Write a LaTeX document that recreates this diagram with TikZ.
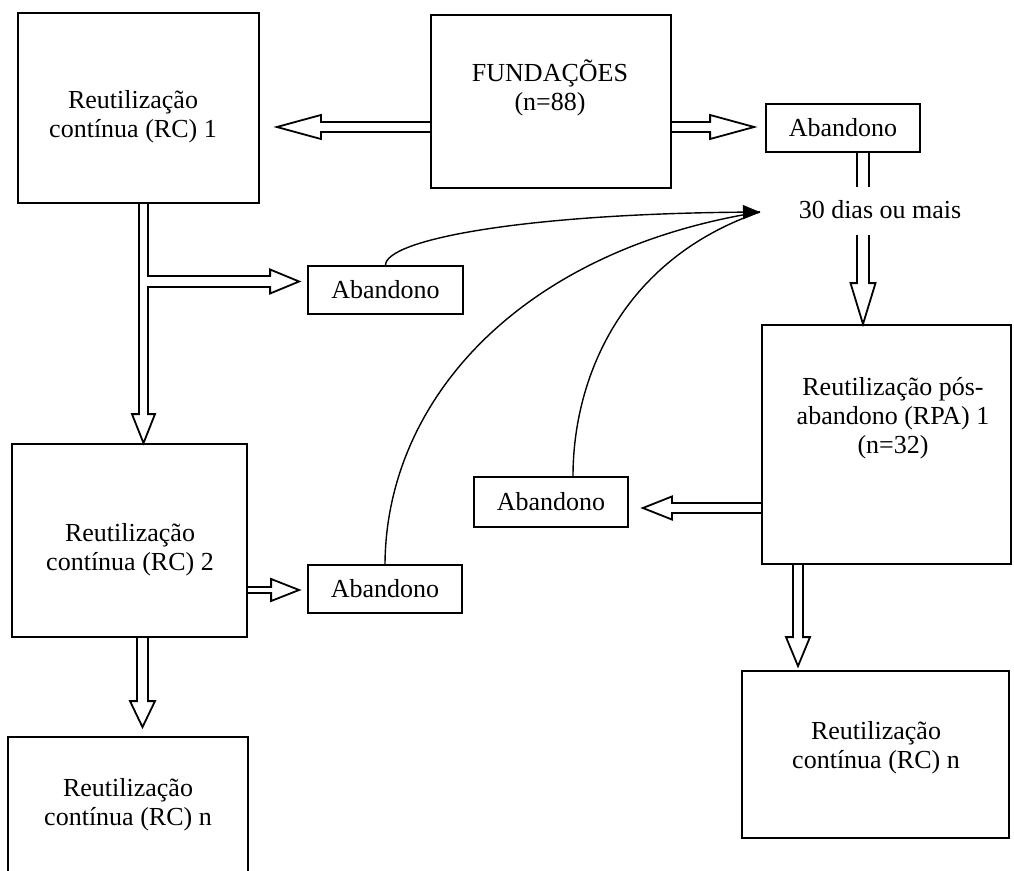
\documentclass[tikz,border=0pt]{standalone}
\usepackage{fontspec}
\setmainfont{Liberation Serif}
\usetikzlibrary{calc,arrows.meta}
\tikzset{
  bs/.store in=\barS, bh/.store in=\barH, bl/.store in=\barL,
  bs=5pt, bh=12pt, bl=29pt,
  blockR/.style={to path={let \p1=(\tikztostart),\p2=(\tikztotarget) in
    (\x1,\y1+\barS) -- (\x2-\barL,\y1+\barS) -- (\x2-\barL,\y1+\barH) -- (\x2,\y1)
    -- (\x2-\barL,\y1-\barH) -- (\x2-\barL,\y1-\barS) -- (\x1,\y1-\barS)}},
  blockL/.style={to path={let \p1=(\tikztostart),\p2=(\tikztotarget) in
    (\x1,\y1+\barS) -- (\x2+\barL,\y1+\barS) -- (\x2+\barL,\y1+\barH) -- (\x2,\y1)
    -- (\x2+\barL,\y1-\barH) -- (\x2+\barL,\y1-\barS) -- (\x1,\y1-\barS)}},
  blockD/.style={to path={let \p1=(\tikztostart),\p2=(\tikztotarget) in
    (\x1-\barS,\y1) -- (\x1-\barS,\y2+\barL) -- (\x1-\barH,\y2+\barL) -- (\x1,\y2)
    -- (\x1+\barH,\y2+\barL) -- (\x1+\barS,\y2+\barL) -- (\x1+\barS,\y1)}},
  blk/.style={draw=black, line width=1.8pt, line join=miter},
  box/.style={draw=black, line width=1.8pt, inner sep=0pt, rectangle},
  txt/.style={align=center, inner sep=0pt, font=\fontsize{26}{29}\selectfont},
  abox/.style={box, minimum width=154pt, minimum height=48pt, font=\fontsize{26}{29}\selectfont},
  curveline/.style={draw=black, line width=1.4pt},
}
\begin{document}
\begin{tikzpicture}[x=1pt,y=-1pt]
\useasboundingbox (0,0) rectangle (1014,870);
\clip (0,0) rectangle (1014,870);

% boxes
\node[box, minimum width=241pt, minimum height=190pt] (rc1) at (138.5,108) {};
\node[txt] (rc1t) at (133,117) {Reutilização\\contínua (RC) 1};

\node[box, minimum width=240pt, minimum height=173pt] (fund) at (551,101.5) {};
\node[txt] (fundt) at (550,88) {FUNDAÇÕES\\(n=88)};

\node[abox] (ab0) at (843,128) {Abandono};
\node[txt] (days) at (880,210) {30 dias ou mais};

\node[box, minimum width=249pt, minimum height=239pt] (rpa) at (886.5,444.5) {};
\node[txt] (rpat) at (893,418) {Reutilização pós-\\abandono (RPA) 1\\(n=32)};

\node[box, minimum width=267pt, minimum height=167pt] (rcnR) at (875.5,754.5) {};
\node[txt] (rcnRt) at (876,748) {Reutilização\\contínua (RC) n};

\node[abox, minimum width=155pt] (ab1) at (385.5,290) {Abandono};
\node[abox, minimum height=50pt] (ab2) at (551,502) {Abandono};
\node[abox] (ab3) at (385,589) {Abandono};

\node[box, minimum width=235pt, minimum height=193pt] (rc2) at (129.5,540.5) {};
\node[txt] (rc2t) at (130,550) {Reutilização\\contínua (RC) 2};

\node[box, minimum width=240pt, minimum height=163pt] (rcnL) at (128,818.5) {};
\node[txt] (rcnLt) at (128,805) {Reutilização\\contínua (RC) n};

% block arrows
\draw[blk, blockL, bs=5pt, bh=12pt, bl=44pt] ([yshift=-25.5pt]fund.west) to ([xshift=17pt]rc1.east);
\draw[blk, blockR, bs=5pt, bh=12pt, bl=44pt] ([yshift=-25.5pt]fund.east) to ([xshift=-11pt]ab0.west);

\coordinate (dtop) at (863,187);
\coordinate (dbot) at (863,235);
\draw[draw=black, line width=1.8pt, double=white, double distance=10.2pt] (ab0.south -| dtop) -- (dtop);
\draw[blk, blockD, bs=6pt, bh=12.5pt, bl=41pt] (dbot) to (rpa.north -| dbot);

\draw[blk, blockD, bs=4.5pt, bh=11.5pt, bl=29pt] ([xshift=5pt]rc1.south) to ([xshift=5pt]rc1.south |- rc2.north);
\coordinate (br) at (148,281.5);
\fill[white] (146.9,276.6) rectangle (149.5,286.4);
\draw[blk, blockR, bs=5.5pt, bh=12pt, bl=29pt] (br) to ([xshift=-8pt]ab1.west);

\draw[blk, blockR, bs=3pt, bh=11pt, bl=28pt] ([yshift=-49.5pt]rc2.east) to ([xshift=-8pt]ab3.west);
\draw[blk, blockD, bs=5.5pt, bh=12.5pt, bl=26pt] ([xshift=13pt]rc2.south) to ([yshift=9pt]rcnL.north);

\draw[blk, blockL, bs=5pt, bh=11.5pt, bl=29pt] ([yshift=-63.5pt]rpa.west) to ([xshift=14pt]ab2.east);
\draw[blk, blockD, bs=5pt, bh=12pt, bl=29pt] ([xshift=-88.5pt]rpa.south) to ([yshift=4pt]rcnR.north);

% curved arrows to "30 dias ou mais"
\coordinate (tip) at (760,212);
\draw[curveline] (ab3.north) .. controls (386,400) and (520,250) .. (tip);
\draw[curveline] ([xshift=22pt]ab2.north) .. controls (573,380) and (620,260) .. (tip);
\draw[curveline, -{Triangle[length=17pt,width=14pt]}] (ab1.north) .. controls (386,240) and (520,214) .. (tip);
\end{tikzpicture}
\end{document}
